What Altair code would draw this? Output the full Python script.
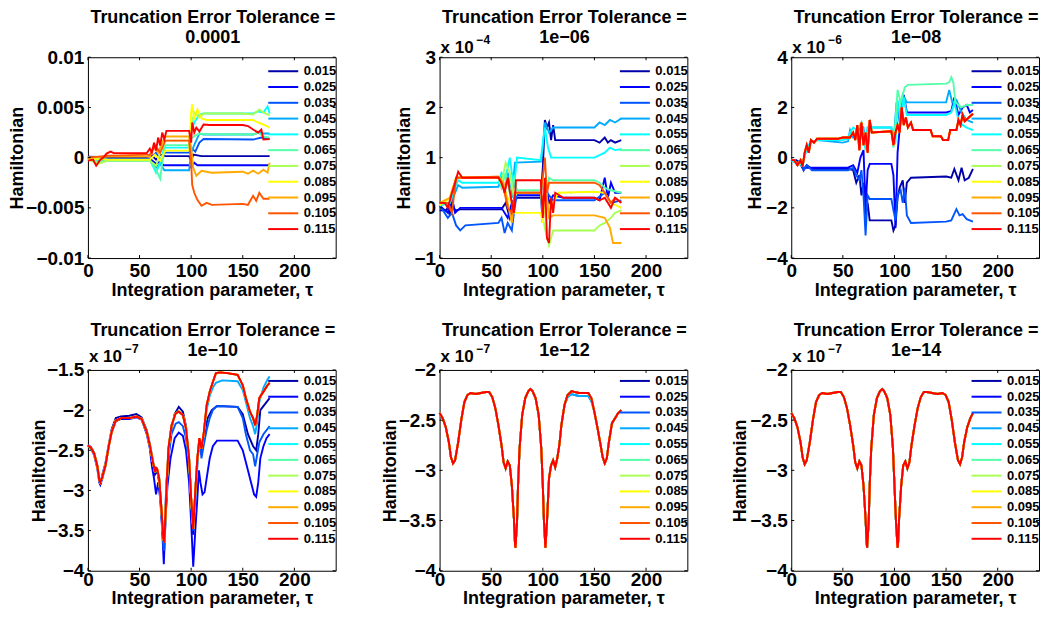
import altair as alt
import pandas as pd

FONT = "Liberation Sans"
SERIES_LABELS = ["0.015", "0.025", "0.035", "0.045", "0.055", "0.065",
                 "0.075", "0.085", "0.095", "0.105", "0.115"]
JET_COLORS = ["#0000AA", "#0000FF", "#0055FF", "#00AAFF", "#00FFFF", "#55FFAA",
              "#AAFF55", "#FFFF00", "#FFAA00", "#FF5500", "#FF0000"]
X_DOMAIN = [0, 240]
X_TICKS = [0, 50, 100, 150, 200]
TITLE_LINE1 = "Truncation Error Tolerance ="
TOLERANCE_TITLES = ["0.0001", "1e\u221206", "1e\u221208", "1e\u221210", "1e\u221212", "1e\u221214"]
EXPONENTS = ["", "\u22124", "\u22126", "\u22127", "\u22127", "\u22127"]
Y_DOMAINS = [[-0.01, 0.01], [-1, 3], [-4, 4], [-4, -1.5], [-4, -2], [-4, -2]]
Y_TICKS = [[-0.01, -0.005, 0, 0.005, 0.01], [-1, 0, 1, 2, 3], [-4, -2, 0, 2, 4],
           [-4, -3.5, -3, -2.5, -2, -1.5], [-4, -3.5, -3, -2.5, -2], [-4, -3.5, -3, -2.5, -2]]
Y_UNITS = [1e-3, 1, 1, 1, 1, 1]

# ---------------- Panel 1 (tol 1e-4), values in units of 1e-3 ----------------
P1_015 = [(0,0.1),(20,0.05),(55,0.0),(62,0.2),(66,-0.2),(70,0.3),(75,0.15),(98,0.15),(100,-0.3),(102,0.3),(110,0.15),(176,0.15)]
P1_025 = [(0,0.0),(10,-0.2),(20,-0.1),(60,-0.1),(66,-0.6),(70,-0.4),(73,-0.75),(98,-0.75),(100,-1.0),(103,-0.5),(106,-0.75),(176,-0.75)]
P1_035 = [(0,0.1),(20,-0.2),(60,-0.2),(66,0.5),(70,-0.3),(74,0.5),(98,0.5),(100,1.0),(104,0.6),(108,1.5),(112,1.85),(160,1.8),(168,2.0),(176,1.85)]
P1_045 = [(0,-0.1),(20,-0.3),(60,-0.3),(66,-1.0),(70,-0.6),(74,-1.25),(98,-1.25),(100,0.5),(104,1.5),(108,2.4),(112,2.3),(160,2.3),(165,2.5),(170,2.4),(176,2.4)]
P1_055 = [(0,0.0),(20,-0.2),(60,-0.2),(66,-1.5),(70,-0.5),(74,1.0),(98,1.0),(100,2.5),(103,3.5),(108,4.3),(112,4.4),(160,4.4),(165,4.6),(170,4.5),(174,5.1),(176,4.4)]
P1_065 = [(0,0.0),(10,-0.4),(20,-0.3),(60,-0.3),(66,-1.2),(70,-2.1),(72,-0.5),(75,1.25),(98,1.25),(100,1.9),(104,2.2),(108,2.4),(112,2.35),(160,2.3),(165,2.5),(170,2.1),(176,2.0)]
P1_075 = [(0,-0.2),(10,-0.6),(20,-0.3),(60,-0.3),(66,-0.8),(70,0.5),(75,1.7),(98,1.7),(100,3.0),(103,4.5),(108,4.0),(112,4.4),(150,4.4),(160,4.3),(166,4.8),(170,4.5),(176,4.2)]
P1_085 = [(0,-0.1),(20,-0.2),(60,-0.2),(65,0.3),(70,-0.3),(75,0.7),(98,0.7),(100,4.5),(101,5.3),(103,3.8),(106,4.8),(110,3.9),(115,3.75),(160,3.75),(165,3.5),(170,3.3),(176,3.0)]
P1_095 = [(0,0.0),(20,0.1),(60,0.1),(64,1.0),(68,0.5),(72,1.5),(75,2.1),(98,2.1),(100,1.0),(102,-1.0),(105,-1.8),(110,-1.3),(120,-1.5),(150,-1.4),(155,-1.6),(160,-1.3),(165,-1.6),(170,-1.2),(174,-1.5),(176,-0.5)]
P1_105 = [(0,0.0),(20,0.2),(60,0.3),(65,1.2),(70,0.5),(75,1.7),(98,1.7),(100,-0.5),(101,-2.7),(103,-3.5),(106,-4.2),(110,-4.8),(115,-4.5),(120,-4.7),(150,-4.6),(155,-4.7),(160,-3.8),(163,-4.3),(166,-3.5),(170,-4.1),(176,-4.1)]
P1_115 = [(0,-0.3),(5,-0.2),(8,-0.8),(12,-0.2),(15,0.0),(18,0.4),(22,0.6),(25,0.45),(57,0.45),(60,0.9),(62,0.5),(64,1.5),(66,0.7),(68,2.0),(70,1.2),(72,2.5),(74,1.8),(76,2.67),(98,2.67),(100,1.5),(101,3.5),(103,2.5),(105,3.0),(108,2.6),(112,3.3),(118,3.25),(150,3.25),(155,3.15),(160,2.8),(165,2.5),(168,2.8),(170,1.8),(176,1.85)]

# ---------------- Panel 2 (tol 1e-6), values in units of 1e-4 ----------------
P2_015 = [(0,-0.05),(6,-0.05),(8,0.0),(10,-0.15),(12,0.1),(15,-0.05),(20,-0.03),(60,-0.03),(64,0.1),(68,-0.2),(72,0.1),(75,0.2),(98,0.2),(100,0.8),(102,1.75),(104,1.6),(106,1.7),(108,1.35),(110,1.65),(112,1.35),(150,1.35),(155,1.3),(160,1.4),(163,1.3),(166,1.35),(170,1.3),(176,1.35)]
P2_025 = [(0,0.05),(8,-0.1),(12,0.2),(15,-0.1),(20,0.0),(60,0.0),(66,-0.2),(70,0.1),(75,0.25),(98,0.25),(100,-0.3),(103,0.5),(106,0.1),(110,0.25),(120,0.2),(150,0.2),(155,0.15),(160,0.6),(163,0.2),(166,0.5),(170,0.3),(176,0.3)]
P2_035 = [(0,0.05),(8,-0.2),(12,-0.1),(16,-0.35),(20,-0.45),(25,-0.35),(57,-0.3),(60,-0.2),(63,-0.5),(66,-0.3),(70,-0.45),(72,-0.1),(75,0.3),(98,0.3),(100,0.0),(104,0.3),(110,0.15),(150,0.15),(160,0.3),(166,0.1),(176,0.15)]
P2_045 = [(0,0.05),(10,0.1),(15,0.3),(18,0.45),(22,0.4),(57,0.42),(60,0.6),(63,0.3),(66,0.7),(70,0.2),(73,0.9),(98,0.92),(100,1.2),(102,1.7),(106,1.5),(110,1.6),(150,1.6),(155,1.7),(160,1.65),(165,1.75),(170,1.7),(176,1.78)]
P2_055 = [(0,0.05),(10,0.1),(15,0.4),(18,0.55),(22,0.5),(57,0.5),(60,0.7),(64,0.6),(68,1.0),(72,0.4),(75,1.0),(98,0.95),(100,1.3),(102,1.6),(105,1.2),(108,1.0),(150,1.0),(155,1.05),(160,1.1),(165,1.2),(170,1.15),(176,1.17)]
P2_065 = [(0,0.05),(10,0.2),(15,0.5),(18,0.6),(57,0.6),(60,0.4),(64,0.7),(68,0.3),(72,0.6),(75,0.35),(98,0.35),(100,0.5),(103,0.2),(106,0.6),(110,0.55),(150,0.55),(155,0.5),(160,0.4),(166,0.35),(176,0.3)]
P2_075 = [(0,0.05),(10,0.2),(16,0.6),(57,0.6),(60,0.5),(64,0.9),(68,0.7),(72,0.2),(75,0.3),(98,0.3),(100,-0.2),(103,-0.5),(106,-0.75),(110,-0.45),(150,-0.45),(155,-0.35),(160,-0.3),(166,-0.2),(170,-0.1),(176,-0.05)]
P2_085 = [(0,0.05),(10,0.2),(16,0.6),(57,0.6),(62,0.4),(66,0.2),(70,0.1),(73,-0.1),(98,-0.1),(100,-0.3),(103,0.3),(106,-0.1),(110,0.1),(115,0.3),(150,0.32),(160,0.3),(166,0.1),(176,0.0)]
P2_095 = [(0,0.1),(10,0.2),(16,0.6),(57,0.62),(62,0.5),(66,0.1),(70,-0.3),(73,0.3),(98,0.3),(100,0.1),(103,0.4),(106,-0.2),(110,-0.15),(150,-0.15),(160,-0.2),(165,-0.4),(168,-0.7),(176,-0.7)]
P2_105 = [(0,0.1),(8,0.1),(12,-0.1),(16,0.6),(57,0.62),(62,0.4),(66,0.0),(70,-0.1),(73,0.3),(98,0.3),(100,0.6),(102,1.0),(104,0.3),(106,0.5),(110,0.5),(150,0.5),(155,0.45),(160,0.3),(166,0.1),(170,0.2),(176,0.1)]
P2_115 = [(0,0.1),(5,0.1),(8,0.0),(12,0.3),(15,0.5),(18,0.72),(22,0.6),(57,0.6),(60,0.5),(63,0.3),(66,0.6),(69,0.2),(72,-0.1),(74,0.55),(98,0.55),(100,-0.2),(102,0.6),(104,-0.6),(106,-0.7),(108,0.2),(110,-0.1),(112,0.3),(120,0.2),(150,0.2),(155,0.15),(160,0.2),(166,0.0),(170,0.2),(176,0.1)]

# ---------------- Panel 3 (tol 1e-8), values in units of 1e-6 ----------------
P3_EARLY = [(0,-0.1),(3,-0.1),(6,-0.3),(9,-0.1),(11,-0.35),(13,0.2),(15,0.5),(17,0.2),(19,0.7),(22,0.6),(25,0.75),(45,0.75),(50,0.8),(57,0.8),(60,1.0),(62,0.7),(64,1.3),(66,0.3),(68,1.4),(70,0.5),(72,1.0),(74,0.2),(76,1.5),(78,1.0),(97,1.05)]
P3_RED_LATE = [(99,0.5),(101,1.0),(103,1.3),(105,1.0),(107,2.0),(109,1.3),(111,1.6),(113,1.2),(116,1.4),(118,1.1),(135,1.1),(137,0.85),(145,0.85),(147,0.7),(152,0.7),(154,1.1),(160,1.1),(162,1.5),(164,1.3),(166,1.7),(168,1.45),(172,1.6),(176,1.75)]
P3_065_LATE = [(99,0.4),(101,1.5),(103,2.7),(106,2.2),(110,2.8),(113,2.9),(150,2.95),(153,3.0),(155,3.2),(157,3.0),(159,2.2),(165,2.0),(170,2.1),(176,2.1)]
P3_055 = [(0,-0.1),(6,-0.25),(11,-0.3),(15,0.4),(19,0.6),(25,0.7),(50,0.7),(55,0.75),(57,1.0),(60,1.2),(64,1.1),(68,1.4),(72,0.3),(74,1.2),(97,1.2),(99,0.5),(101,0.6),(103,2.3),(106,1.5),(109,2.4),(112,1.7),(150,1.7),(155,1.8),(158,2.2),(162,1.5),(166,1.3),(170,1.2),(176,1.1)]
P3_045 = [(0,-0.1),(6,-0.25),(11,-0.3),(15,0.4),(19,0.6),(25,0.7),(50,0.6),(55,0.65),(57,1.1),(60,0.8),(64,0.9),(67,1.3),(70,1.2),(72,0.4),(74,1.2),(97,1.2),(99,0.6),(102,2.2),(105,1.4),(108,2.5),(112,2.2),(150,2.2),(153,2.7),(156,2.2),(160,2.3),(165,1.8),(170,1.5),(176,1.4)]
P3_035 = [(0,-0.1),(5,-0.2),(10,-0.1),(12,-0.5),(15,-0.3),(20,-0.5),(55,-0.5),(60,-0.4),(63,-0.7),(66,-0.9),(68,-0.5),(70,-1.5),(72,-3.1),(74,-1.5),(76,-1.65),(97,-1.65),(99,-2.1),(101,-2.5),(103,-1.5),(106,-1.3),(108,-1.8),(110,-1.2),(112,-2.3),(116,-2.6),(150,-2.55),(155,-2.5),(160,-2.05),(163,-2.3),(166,-2.25),(170,-2.45),(176,-2.55)]
P3_025 = [(0,-0.1),(5,-0.2),(10,-0.2),(12,-0.4),(20,-0.4),(55,-0.4),(60,-0.3),(64,-0.6),(67,0.0),(70,0.3),(72,-2.0),(74,-0.5),(76,-0.25),(97,-0.25),(99,-0.7),(101,-2.8),(103,0.2),(106,1.6),(109,2.5),(112,1.8),(150,1.8),(155,1.85),(158,2.4),(162,1.7),(166,2.0),(170,2.1),(173,1.8),(176,1.9)]
P3_015 = [(0,-0.1),(5,-0.1),(8,-0.2),(12,-0.5),(15,-0.3),(20,-0.45),(55,-0.45),(60,-0.5),(63,-1.0),(66,-0.7),(68,-1.5),(70,-1.0),(72,-2.3),(74,-1.8),(76,-2.5),(97,-2.5),(99,-2.9),(101,-2.7),(103,-1.6),(105,-1.2),(108,-0.9),(110,-1.8),(112,-1.0),(116,-0.8),(150,-0.75),(155,-0.8),(158,-0.45),(162,-0.9),(165,-0.4),(168,-0.9),(172,-0.8),(176,-0.45)]

# ---------------- Panel 4 (tol 1e-10), values in units of 1e-7 ----------------
P4_EARLY = [(0,-2.44),(3,-2.47),(6,-2.54),(9,-2.69),(11,-2.87),(12,-2.9),(14,-2.83),(17,-2.69),(20,-2.46),(23,-2.27),(27,-2.13),(32,-2.1),(40,-2.1),(47,-2.08),(52,-2.11),(57,-2.27),(60,-2.44),(63,-2.65),(65,-2.77),(66,-2.72),(67,-2.73),(69,-2.85)]
P4_A_MID = [(71,-3.19),(73,-3.6),(74,-3.65),(76,-3.02),(78,-2.48),(81,-2.19),(85,-2.04),(88,-2.02),(92,-2.06),(95,-2.23),(98,-2.6),(100,-3.1),(102,-3.48),(104,-3.02),(106,-2.6),(108,-2.35),(110,-2.48)]
P4_A_LATE = [(112,-2.31),(115,-1.94),(118,-1.77),(121,-1.65),(124,-1.54),(128,-1.53),(135,-1.54),(145,-1.56),(150,-1.69),(153,-1.85),(157,-2.02),(160,-2.1),(162,-2.19),(164,-2.06),(166,-1.85),(170,-1.77),(174,-1.69),(176,-1.66)]
P4_045_LATE = [(112,-2.35),(115,-2.0),(118,-1.82),(121,-1.72),(124,-1.66),(130,-1.63),(145,-1.64),(150,-1.75),(153,-1.9),(157,-2.1),(160,-2.2),(162,-2.3),(164,-2.15),(166,-1.9),(170,-1.72),(174,-1.62),(176,-1.58)]
P4_035_LATE = [(71,-3.25),(73,-3.7),(74,-3.75),(76,-3.1),(78,-2.6),(81,-2.3),(85,-2.17),(88,-2.15),(92,-2.2),(95,-2.35),(98,-2.7),(100,-3.2),(102,-3.5),(104,-3.1),(106,-2.7),(108,-2.35),(110,-2.6),(112,-2.45),(115,-2.25),(118,-2.1),(121,-2.0),(125,-1.95),(145,-1.96),(150,-2.1),(153,-2.3),(157,-2.5),(160,-2.55),(162,-2.7),(164,-2.55),(166,-2.4),(170,-2.3),(176,-2.2)]
P4_025 = [(0,-2.44),(3,-2.48),(6,-2.56),(9,-2.72),(11,-2.9),(12,-2.93),(14,-2.85),(17,-2.7),(20,-2.47),(23,-2.28),(27,-2.14),(32,-2.11),(40,-2.11),(47,-2.09),(52,-2.12),(57,-2.3),(60,-2.48),(62,-2.7),(64,-2.85),(66,-3.05),(68,-2.9),(70,-3.1),(72,-3.5),(73.5,-3.92),(75,-3.4),(77,-2.95),(80,-2.6),(84,-2.35),(88,-2.28),(92,-2.32),(95,-2.5),(98,-2.9),(100,-3.4),(102,-3.95),(104,-3.5),(106,-3.1),(107.5,-2.75),(109,-2.9),(111,-3.05),(113,-3.02),(115,-2.85),(118,-2.6),(121,-2.45),(125,-2.38),(145,-2.38),(150,-2.5),(155,-2.75),(158,-2.9),(161,-3.05),(163,-3.08),(165,-2.9),(167,-2.6),(170,-2.45),(173,-2.35),(176,-2.3)]
P4_015 = [(0,-2.43),(3,-2.46),(6,-2.53),(9,-2.68),(11,-2.85),(12,-2.92),(14,-2.8),(17,-2.66),(20,-2.44),(23,-2.24),(27,-2.1),(32,-2.08),(40,-2.07),(47,-2.05),(52,-2.09),(57,-2.25),(60,-2.42),(63,-2.63),(65,-2.8),(67,-2.75),(69,-2.9),(71,-3.2),(73,-3.6),(74,-3.62),(76,-2.9),(80,-2.3),(84,-2.05),(88,-1.96),(92,-2.02),(95,-2.2),(98,-2.6),(100,-3.1),(102,-3.55),(104,-3.0),(106,-2.6),(108,-2.4),(110,-2.55),(113,-2.3),(116,-2.1),(120,-2.0),(125,-1.95),(145,-1.96),(150,-2.05),(155,-2.3),(160,-2.45),(163,-2.5),(165,-2.3),(167,-2.0),(170,-1.95),(176,-1.85)]

# ---------------- Panel 5 (tol 1e-12), values in units of 1e-7 ----------------
P5_HEAD = [(0,-2.43),(3,-2.48),(6,-2.57),(9,-2.72),(11,-2.87),(13,-2.93),(15,-2.9),(18,-2.72),(21,-2.5),(24,-2.32),(27,-2.25),(30,-2.23),(35,-2.24),(40,-2.23),(45,-2.22),(48,-2.22),(51,-2.27),(54,-2.38),(57,-2.55),(60,-2.75),(62,-2.92),(64,-2.98),(66,-2.91),(68,-2.95),(70,-3.15),(72,-3.48),(73,-3.72),(73.5,-3.77),(75,-3.52),(76,-3.15),(77.5,-2.78),(80,-2.45),(83,-2.28),(86,-2.21),(88,-2.19),(90,-2.21),(93,-2.28),(96,-2.45),(98.5,-2.78),(100,-3.15),(101,-3.48),(102.5,-3.77),(104,-3.52),(106,-3.08),(108,-2.95),(110,-2.9),(112,-2.97),(114,-2.88),(116,-2.75),(118,-2.55),(121,-2.35)]
P5_MID = [(124,-2.25),(128,-2.21),(131,-2.22),(135,-2.23),(140,-2.23),(144,-2.23),(147,-2.28)]
P5_BLUE_MID = [(124,-2.27),(128,-2.24),(131,-2.25),(135,-2.26),(140,-2.26),(144,-2.26),(147,-2.31)]
P5_TAIL = [(150,-2.42),(153,-2.58),(156,-2.75),(158,-2.87),(160,-2.93),(162,-2.88),(164,-2.72),(167,-2.53),(170,-2.48),(173,-2.43),(176,-2.4)]

# ---------------- Panel 6 (tol 1e-14), values in units of 1e-7 ----------------
P6_CURVE = [(0,-2.43),(3,-2.48),(6,-2.57),(9,-2.72),(11,-2.87),(13,-2.94),(15,-2.9),(18,-2.72),(21,-2.5),(24,-2.32),(27,-2.25),(30,-2.23),(35,-2.24),(40,-2.23),(45,-2.22),(48,-2.22),(51,-2.27),(54,-2.38),(57,-2.55),(60,-2.75),(62,-2.92),(64,-2.98),(66,-2.91),(68,-2.95),(70,-3.15),(72,-3.48),(73,-3.72),(73.5,-3.77),(75,-3.52),(76,-3.15),(77.5,-2.78),(80,-2.45),(83,-2.28),(86,-2.21),(88,-2.19),(90,-2.21),(93,-2.28),(96,-2.45),(98.5,-2.78),(100,-3.15),(101.5,-3.52),(103,-3.77),(103.5,-3.72),(104.5,-3.48),(106.5,-3.15),(108.5,-2.95),(110.5,-2.91),(112.5,-2.98),(114.5,-2.92),(116.5,-2.75),(119.5,-2.55),(122.5,-2.38),(125.5,-2.27),(128.5,-2.22),(131.5,-2.22),(136.5,-2.23),(141.5,-2.24),(146.5,-2.23),(149.5,-2.25),(152.5,-2.32),(155.5,-2.5),(158.5,-2.72),(161.5,-2.9),(163.5,-2.94),(165.5,-2.87),(167.5,-2.72),(170.5,-2.57),(173.5,-2.48),(176,-2.43)]

P4_A = P4_EARLY + P4_A_MID + P4_A_LATE
P5_RED = P5_HEAD + P5_MID + P5_TAIL
P5_BLUE = P5_HEAD + P5_BLUE_MID + P5_TAIL
P3_RED = P3_EARLY + P3_RED_LATE

PANEL_SERIES = [
    [P1_015, P1_025, P1_035, P1_045, P1_055, P1_065, P1_075, P1_085, P1_095, P1_105, P1_115],
    [P2_015, P2_025, P2_035, P2_045, P2_055, P2_065, P2_075, P2_085, P2_095, P2_105, P2_115],
    [P3_015, P3_025, P3_035, P3_045, P3_055, P3_EARLY + P3_065_LATE, P3_RED, P3_RED, P3_RED, P3_RED, P3_RED],
    [P4_015, P4_025, P4_EARLY + P4_035_LATE, P4_EARLY + P4_A_MID + P4_045_LATE,
     P4_A, P4_A, P4_A, P4_A, P4_A, P4_A, P4_A],
    [P5_RED, P5_RED, P5_BLUE, P5_BLUE, P5_RED, P5_RED, P5_RED, P5_RED, P5_RED, P5_RED, P5_RED],
    [P6_CURVE] * 11,
]

# ---------------- layout / style ----------------
W, H = 248, 201
COL_SPACING, ROW_SPACING = 104, 112
YTITLE_X = [-65.5, -30, -30.7, -43, -44.3, -45.7]


def make_panel(i):
    rows = []
    for lab, pts in zip(SERIES_LABELS, PANEL_SERIES[i]):
        for x, y in pts:
            rows.append({"x": x, "y": y * Y_UNITS[i], "s": lab})
    df = pd.DataFrame(rows)
    top_row = i < 3

    xenc = alt.X("x:Q", scale=alt.Scale(domain=X_DOMAIN, nice=False, zero=False),
                 axis=alt.Axis(values=X_TICKS, format="d", title="Integration parameter, \u03c4",
                               labelFont=FONT, labelFontSize=19, labelFontWeight="bold",
                               labelColor="black", labelPadding=3 if top_row else 0,
                               labelFlush=False, labelBaseline="top", ticks=False,
                               tickSize=0, domain=False, grid=False, titleFont=FONT,
                               titleFontSize=18, titleFontWeight="bold", titleColor="black",
                               titleBaseline="alphabetic", titleY=37 if top_row else 33))
    yenc = alt.Y("y:Q", scale=alt.Scale(domain=Y_DOMAINS[i], nice=False, zero=False),
                 axis=alt.Axis(values=Y_TICKS[i], format="~g", title="Hamiltonian",
                               labelFont=FONT, labelFontSize=19, labelFontWeight="bold",
                               labelColor="black", labelPadding=4, labelFlush=False,
                               ticks=False, tickSize=0, domain=False, grid=False,
                               titleFont=FONT, titleFontSize=18, titleFontWeight="bold",
                               titleColor="black", titleBaseline="alphabetic",
                               titleAngle=270, titleAlign="center",
                               titleX=YTITLE_X[i], titleY=H / 2))

    lines = alt.Chart(df).mark_line(strokeWidth=1.9).encode(
        x=xenc, y=yenc,
        color=alt.Color("s:N", scale=alt.Scale(domain=SERIES_LABELS, range=JET_COLORS),
                        legend=alt.Legend(orient="none", legendX=W - 59,
                                          legendY=7.5 if top_row else 4.5,
                                          title=None, padding=0,
                                          symbolType="M-3,0H3", symbolSize=100,
                                          symbolStrokeWidth=2, labelOffset=14,
                                          labelFont=FONT, labelFontSize=13,
                                          labelFontWeight="bold", labelColor="black",
                                          rowPadding=1.8)),
    )

    xt = pd.DataFrame({"x": X_TICKS})
    yt = pd.DataFrame({"y": Y_TICKS[i]})
    tick_b = alt.Chart(xt).mark_rule(color="black", strokeWidth=1).encode(
        x=xenc, y=alt.value(H), y2=alt.value(H - 3))
    tick_t = alt.Chart(xt).mark_rule(color="black", strokeWidth=1).encode(
        x=xenc, y=alt.value(0), y2=alt.value(3))
    tick_l = alt.Chart(yt).mark_rule(color="black", strokeWidth=1).encode(
        y=yenc, x=alt.value(0), x2=alt.value(3))
    tick_r = alt.Chart(yt).mark_rule(color="black", strokeWidth=1).encode(
        y=yenc, x=alt.value(W - 3), x2=alt.value(W))

    title_df = pd.DataFrame({"t1": [TITLE_LINE1], "t2": [TOLERANCE_TITLES[i]]})
    title1 = alt.Chart(title_df).mark_text(
        align="center", baseline="alphabetic", font=FONT, fontSize=18,
        fontWeight="bold", color="black").encode(
        x=alt.value(W / 2 + 1), y=alt.value(-34), text="t1:N")
    title2 = alt.Chart(title_df).mark_text(
        align="center", baseline="alphabetic", font=FONT, fontSize=18,
        fontWeight="bold", color="black").encode(
        x=alt.value(W / 2 + 1), y=alt.value(-14), text="t2:N")

    layers = [lines, tick_b, tick_t, tick_l, tick_r, title1, title2]
    if EXPONENTS[i]:
        lab = pd.DataFrame({"t": ["x 10"]})
        base_y = -4 if top_row else -8
        layers.append(alt.Chart(lab).mark_text(
            align="left", baseline="alphabetic", font=FONT, fontSize=17,
            fontWeight="bold", color="black").encode(
            x=alt.value(1), y=alt.value(base_y), text="t:N"))
        layers.append(alt.Chart(lab).mark_text(
            align="left", baseline="alphabetic", font=FONT, fontSize=12,
            fontWeight="bold", color="black").encode(
            x=alt.value(37), y=alt.value(base_y - 9), text=alt.value(EXPONENTS[i])))

    return alt.layer(*layers).properties(width=W, height=H)


panels = [make_panel(i) for i in range(6)]

chart = alt.concat(*panels, columns=3,
                   spacing={"row": ROW_SPACING, "column": COL_SPACING}).properties(
    bounds="flush", padding=0
).resolve_scale(
    x="independent", y="independent", color="independent"
).resolve_legend(
    color="independent"
).configure_view(stroke="black", strokeWidth=1)

chart.save("out.html", embed_options={"renderer": "svg", "actions": False})
